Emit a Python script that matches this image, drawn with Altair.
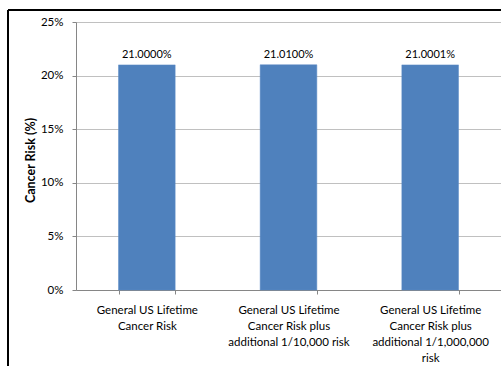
import altair as alt
import pandas as pd

categories = [
    "General US Lifetime Cancer Risk",
    "General US Lifetime Cancer Risk plus additional 1/10,000 risk",
    "General US Lifetime Cancer Risk plus additional 1/1,000,000 risk",
]
label_lines = [
    ["General US Lifetime", "Cancer Risk"],
    ["General US Lifetime", "Cancer Risk plus", "additional 1/10,000 risk"],
    ["General US Lifetime", "Cancer Risk plus", "additional 1/1,000,000", "risk"],
]
values = [0.21, 0.2101, 0.210001]
y_ticks = [0, 0.05, 0.10, 0.15, 0.20, 0.25]

df = pd.DataFrame({"cat": categories, "val": values})

# labelExpr mapping category -> multi-line label
parts = []
for c, lines in zip(categories, label_lines):
    arr = "[" + ",".join("'" + l + "'" for l in lines) + "]"
    parts.append(f"datum.label == '{c}' ? {arr}")
label_expr = " : ".join(parts) + " : datum.label"

FONT = "Lato"
W, H = 425, 268

base = alt.Chart(df).encode(
    x=alt.X(
        "cat:N",
        sort=categories,
        scale=alt.Scale(paddingInner=0.6, paddingOuter=0.3),
        axis=alt.Axis(
            title=None,
            labelAngle=0,
            labelExpr=label_expr,
            labelFont=FONT,
            labelFontSize=11.5,
            labelColor="#000000",
            labelLineHeight=16,
            labelPadding=10,
            labelBaseline="top",
            tickBand="extent",
            tickSize=4,
            tickColor="#868686",
            domainColor="#868686",
            grid=False,
        ),
    ),
    y=alt.Y(
        "val:Q",
        scale=alt.Scale(domain=[0, 0.25], nice=False),
        axis=alt.Axis(
            values=y_ticks,
            format=".0%",
            title="Cancer Risk (%)",
            titleFont=FONT,
            titleFontSize=12.5,
            titleFontWeight="bold",
            titleColor="#000000",
            titleX=-46,
            titleY=138,
            titleAngle=270,
            titleAlign="center",
            titleBaseline="middle",
            labelFont=FONT,
            labelFontSize=11.5,
            labelColor="#000000",
            labelPadding=9,
            tickSize=4,
            tickColor="#868686",
            domainColor="#868686",
            gridColor="#c0c0c0",
        ),
    ),
)

bars = base.mark_bar(color="#4F81BD", stroke="#5A8AC6", strokeWidth=0.5)
labels = base.mark_text(
    dy=-5, baseline="bottom", font=FONT, fontSize=11, color="#000000"
).encode(text=alt.Text("val:Q", format=".4%"))

frame_top = alt.Chart(df).mark_rule(color="#000000", strokeWidth=2).encode(
    x=alt.value(-68), x2=alt.value(W), y=alt.value(-12)
)
frame_left = alt.Chart(df).mark_rule(color="#000000", strokeWidth=2).encode(
    x=alt.value(-68), y=alt.value(-12), y2=alt.value(H + 76)
)

chart = (
    alt.layer(bars, labels, frame_top, frame_left)
    .properties(
        width=W,
        height=H,
        autosize=alt.AutoSizeParams(type="none"),
        padding={"left": 76, "top": 22, "right": 0, "bottom": 76},
    )
    .configure_view(stroke=None, clip=False)
    .configure(background="transparent")
)

chart.save("out.html", embed_options={"renderer": "svg", "actions": False})
